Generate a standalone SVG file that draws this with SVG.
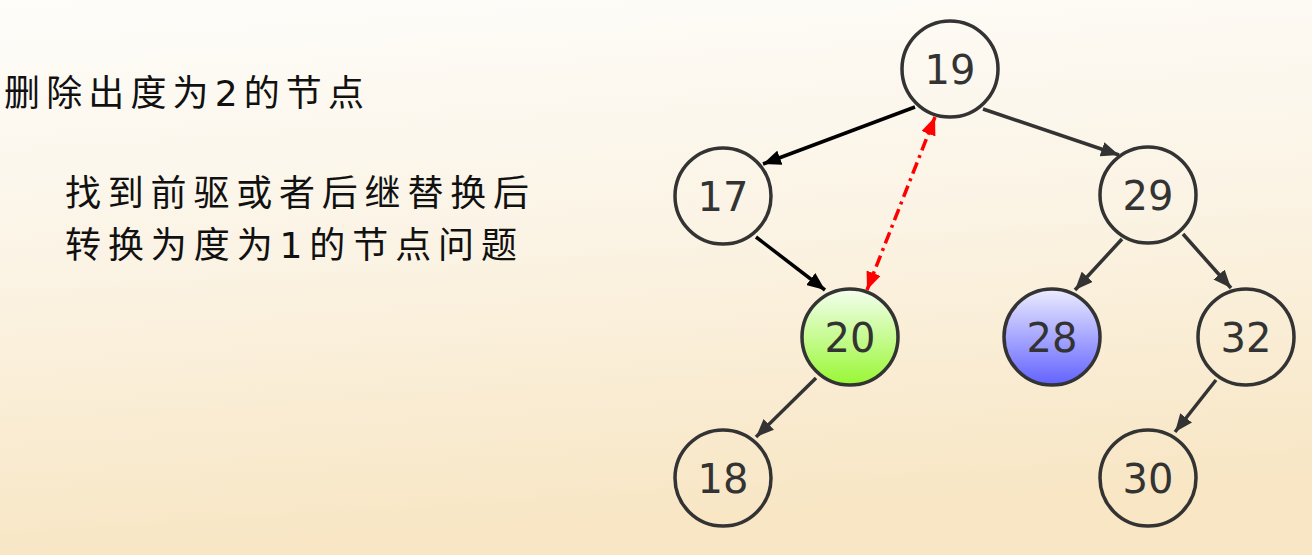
<svg xmlns="http://www.w3.org/2000/svg" width="1312" height="555" viewBox="0 0 1312 555">
<defs>
<linearGradient id="bg" x1="0" y1="0" x2="0.15" y2="1">
<stop offset="0" stop-color="#fefdfa"/>
<stop offset="0.45" stop-color="#fbf4e6"/>
<stop offset="1" stop-color="#f8e6c4"/>
</linearGradient>
<linearGradient id="green" x1="0" y1="0" x2="0" y2="1">
<stop offset="0" stop-color="#f4fff0"/>
<stop offset="1" stop-color="#99f733"/>
</linearGradient>
<linearGradient id="blue" x1="0" y1="0" x2="0" y2="1">
<stop offset="0" stop-color="#ececff"/>
<stop offset="1" stop-color="#6262ff"/>
</linearGradient>
<marker id="ab" markerUnits="userSpaceOnUse" markerWidth="20" markerHeight="15" refX="18" refY="7.5" orient="auto">
<path d="M0,0 L18,7.5 L0,15 z" fill="#000"/>
</marker>
<marker id="ag" markerUnits="userSpaceOnUse" markerWidth="20" markerHeight="15" refX="18" refY="7.5" orient="auto">
<path d="M0,0 L18,7.5 L0,15 z" fill="#333"/>
</marker>
<marker id="ar" markerUnits="userSpaceOnUse" markerWidth="20" markerHeight="15" refX="18" refY="7.5" orient="auto-start-reverse">
<path d="M0,0 L18,7.5 L0,15 z" fill="#ff0000"/>
</marker>
</defs>
<style>
.n circle{stroke:#333;stroke-width:3.5;fill:none}
.n text{font-family:"DejaVu Sans","Liberation Sans",sans-serif;font-size:40px;fill:#333;text-anchor:middle}
.e{stroke-width:3.5;fill:none}
.cn{font-family:"DejaVu Sans","Noto Sans CJK SC",sans-serif;font-size:36px;fill:#111}
</style>
<rect width="1312" height="555" fill="url(#bg)"/>
<g id="texts">
<text class="cn" x="4" y="106" textLength="360" lengthAdjust="spacing">删除出度为2的节点</text>
<text class="cn" x="65" y="206" textLength="464" lengthAdjust="spacing">找到前驱或者后继替换后</text>
<text class="cn" x="65" y="258" textLength="452" lengthAdjust="spacing">转换为度为1的节点问题</text>
</g>
<g id="connectors">
<line class="e" x1="915" y1="107" x2="763" y2="164" stroke="#000" marker-end="url(#ab)"/>
<line class="e" x1="983" y1="109" x2="1119" y2="155" stroke="#333" marker-end="url(#ag)"/>
<line class="e" x1="756" y1="237" x2="825" y2="290" stroke="#000" marker-end="url(#ab)"/>
<line class="e" x1="1122" y1="239" x2="1075" y2="290" stroke="#333" marker-end="url(#ag)"/>
<line class="e" x1="1183" y1="234" x2="1231" y2="288" stroke="#333" marker-end="url(#ag)"/>
<line class="e" x1="816" y1="378" x2="756" y2="437" stroke="#333" marker-end="url(#ag)"/>
<line class="e" x1="1216" y1="380" x2="1175" y2="432" stroke="#333" marker-end="url(#ag)"/>
<line class="e" x1="867" y1="290" x2="935" y2="117" stroke="#ff0000" stroke-dasharray="12,5,3,5" marker-start="url(#ar)" marker-end="url(#ar)"/>
</g>
<g id="n19" class="n"><circle cx="950" cy="69" r="48"/><text x="950" y="84">19</text></g>
<g id="n17" class="n"><circle cx="723" cy="196" r="48"/><text x="723" y="211">17</text></g>
<g id="n29" class="n"><circle cx="1148" cy="195" r="48"/><text x="1148" y="210">29</text></g>
<g id="n20" class="n"><circle cx="850" cy="337" r="48" style="fill:url(#green)"/><text x="850" y="352">20</text></g>
<g id="n28" class="n"><circle cx="1052" cy="337" r="48" style="fill:url(#blue)"/><text x="1052" y="352">28</text></g>
<g id="n32" class="n"><circle cx="1246" cy="337" r="48"/><text x="1246" y="352">32</text></g>
<g id="n18" class="n"><circle cx="723" cy="478" r="48"/><text x="723" y="493">18</text></g>
<g id="n30" class="n"><circle cx="1148" cy="478" r="48"/><text x="1148" y="493">30</text></g>
</svg>
